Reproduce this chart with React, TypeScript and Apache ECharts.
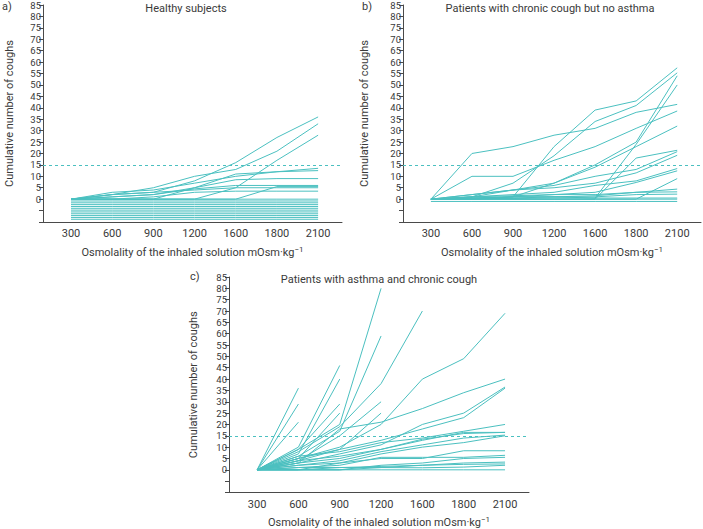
import React, { useEffect, useRef } from "react";
import * as echarts from "echarts";

// Osmolality steps (mOsm·kg⁻¹), evenly spaced categories
const categories = ["300", "600", "900", "1200", "1600", "1800", "2100"];
const thresholdCoughs = 15;

// a) Healthy subjects – cumulative coughs per subject
const healthySubjects: number[][] = [
  [0, 2, 5, 10, 13, 21, 33],
  [0, 2, 3, 8, 16, 27, 36],
  [0, 0, 0, 0, 5, 17, 28],
  [0, 1, 2, 5, 11, 12, 13.5],
  [0, 3, 4, 7, 10, 12, 12.5],
  [0, 0, 0, 5, 8.5, 9, 9],
  [0, 1, 2, 4.5, 6, 6, 6],
  [0, 0, 0, 0, 0, 5.5, 5.5],
  [0, 2, 3, 4, 5, 5, 5],
  [0, 0, 1, 3, 3.5, 3.5, 3.5],
  // subjects without coughs (drawn stacked below zero)
  [0, 0, 0, 0, 0, 0, 0],
  [-0.8, -0.8, -0.8, -0.8, -0.8, -0.8, -0.8],
  [-1.6, -1.6, -1.6, -1.6, -1.6, -1.6, -1.6],
  [-2.4, -2.4, -2.4, -2.4, -2.4, -2.4, -2.4],
  [-3.2, -3.2, -3.2, -3.2, -3.2, -3.2, -3.2],
  [-4, -4, -4, -4, -4, -4, -4],
  [-4.8, -4.8, -4.8, -4.8, -4.8, -4.8, -4.8],
  [-5.6, -5.6, -5.6, -5.6, -5.6, -5.6, -5.6],
  [-6.4, -6.4, -6.4, -6.4, -6.4, -6.4, -6.4],
  [-7.2, -7.2, -7.2, -7.2, -7.2, -7.2, -7.2],
  [-8, -8, -8, -8, -8, -8, -8],
  [-8.8, -8.8, -8.8, -8.8, -8.8, -8.8, -8.8],
];

// b) Patients with chronic cough but no asthma
const coughNoAsthma: number[][] = [
  [0, 20, 23, 28, 31, 38, 41.5],
  [0, 10, 10, 17, 23, 31, 38.6],
  [0, 0.5, 1, 23, 39, 43, 57.5],
  [0, 1, 7, 19, 34, 41, 55.3],
  [0, 0.5, 1, 7, 15, 25, 54],
  [0, 0, 1, 1, 0.5, 24, 50],
  [0, 2, 4, 7, 14, 23, 32],
  [0, 0, 0, 0, 0, 18, 21.4],
  [0, 1, 4, 6, 10, 13, 20.8],
  [0, 2, 4, 5, 7, 11.5, 19.2],
  [0, 1, 2, 3, 6, 8, 13.4],
  [0, 0, 1, 2, 3, 7.3, 12.4],
  [0, 0, 0, 0, 0, 0, 9],
  [0, 1, 1.5, 2, 2, 3, 4.4],
  [0, 0.5, 1, 1, 1.5, 3, 3.2],
  [0, 0, 0.5, 1, 1, 2, 2.2],
  [0, 0.3, 0.3, 0.5, 0.5, 0.5, 0.5],
  [0, 0, 0, 0, 0, 0, 0],
  [-1, -1, -1, -1, -1, -1, -1],
];

// c) Patients with asthma and chronic cough (lines end when the test stopped)
const asthmaCough: number[][] = [
  [0, 9, 20, 80],
  [0, 8, 19, 38, 70],
  [0, 6, 17, 59],
  [0, 10, 46],
  [0, 7, 40],
  [0, 9, 29],
  [0, 5, 25],
  [0, 36],
  [0, 29],
  [0, 21],
  [0, 4, 15, 30],
  [0, 5, 9, 25],
  [0, 5, 10, 20, 40, 49, 69],
  [0, 3, 18, 21, 27, 34, 40],
  [0, 4, 9, 13, 18, 23, 36],
  [0, 3, 7, 11, 20, 25, 36.5],
  [0, 6, 8, 12, 14, 17, 20],
  [0, 4, 6, 9, 13, 16.5, 16.5],
  [0, 2, 4, 8, 11, 14, 15.3],
  [0, 0, 3, 7, 10, 12, 15],
  [0, 3, 5, 9, 13.5, 16, 16.5],
  [0, 2, 3, 5, 5, 8.4, 8.4],
  [0, 1, 2, 5.5, 5.5, 5.5, 6.4],
  [0, 0, 0, 2, 3, 5, 5.5],
  [0, 1, 1, 1, 2, 3, 3.4],
  [0, 0, 1, 1.5, 2, 2.4, 2.6],
  [0, 0, 0, 1, 0.9, 1.2, 2],
  [0, 0, 0, 0, 0, 0, 0],
];

const TEAL = "#4bc0c0";
const AXIS = "#4a4a4a";
const TEXT = "#3a3a3a";
const FONT = "Roboto, 'DejaVu Sans', sans-serif";
const FS = 11;
const FS_Y = 9.5;

const panels = [
  {
    letter: "a)",
    title: "Healthy subjects",
    data: healthySubjects,
    grid: { left: 43, top: 5, width: 299, height: 217 },
    titleAt: [186, 3],
    letterAt: [2, 1],
    yGap: 28,
  },
  {
    letter: "b)",
    title: "Patients with chronic cough but no asthma",
    data: coughNoAsthma,
    grid: { left: 403, top: 5, width: 298, height: 217 },
    titleAt: [550, 3],
    letterAt: [362, 1],
    yGap: 33,
  },
  {
    letter: "c)",
    title: "Patients with asthma and chronic cough",
    data: asthmaCough,
    grid: { left: 229, top: 277, width: 300, height: 217 },
    titleAt: [379, 274],
    letterAt: [190, 271],
    yGap: 30,
  },
];

export default function App() {
  const ref = useRef<HTMLDivElement>(null);

  useEffect(() => {
    if (!ref.current) return;
    const chart = echarts.init(ref.current, undefined, { renderer: "svg" });

    const grids: any[] = [];
    const xAxes: any[] = [];
    const yAxes: any[] = [];
    const titles: any[] = [];
    const series: any[] = [];

    panels.forEach((p, gi) => {
      grids.push({ ...p.grid, containLabel: false });
      xAxes.push({
        type: "value",
        gridIndex: gi,
        min: -0.68,
        max: 6.58,
        axisLine: { show: true, onZero: false, lineStyle: { color: AXIS, width: 1 } },
        axisTick: { show: false },
        splitLine: { show: false },
        axisLabel: {
          customValues: [0, 1, 2, 3, 4, 5, 6],
          formatter: (v: number) => categories[Math.round(v)] ?? "",
          color: TEXT,
          fontSize: FS,
          fontFamily: FONT,
          margin: 6,
        },
        name: "Osmolality of the inhaled solution mOsm·kg{sup|−1}",
        nameLocation: "middle",
        nameGap: 23,
        nameTextStyle: {
          color: TEXT,
          fontSize: FS,
          fontFamily: FONT,
          rich: {
            sup: { fontSize: 8, fontFamily: FONT, color: TEXT, verticalAlign: "top", padding: [0, 0, 6, 0] },
          },
        },
      });
      yAxes.push({
        type: "value",
        gridIndex: gi,
        min: -10,
        max: 85,
        interval: 5,
        axisLine: { show: true, onZero: false, lineStyle: { color: AXIS, width: 1 } },
        axisTick: { show: true, length: 4, lineStyle: { color: AXIS, width: 1 } },
        splitLine: { show: false },
        axisLabel: {
          formatter: (v: number) => (v < 0 ? "" : String(v)),
          color: TEXT,
          fontSize: FS_Y,
          fontFamily: FONT,
          margin: 2,
        },
        name: "Cumulative number of coughs",
        nameLocation: "middle",
        nameGap: p.yGap,
        nameTextStyle: { color: TEXT, fontSize: FS, fontFamily: FONT },
      });
      titles.push({
        text: p.title,
        left: p.titleAt[0],
        top: p.titleAt[1],
        textAlign: "center",
        padding: 0,
        textStyle: { color: TEXT, fontSize: FS, fontWeight: "normal", fontFamily: FONT },
      });
      titles.push({
        text: p.letter,
        left: p.letterAt[0],
        top: p.letterAt[1],
        padding: 0,
        textStyle: { color: TEXT, fontSize: FS, fontWeight: "normal", fontFamily: FONT },
      });
      p.data.forEach((vals, si) => {
        series.push({
          type: "line",
          xAxisIndex: gi,
          yAxisIndex: gi,
          data: vals.map((v, i) => [i, v]),
          symbol: "none",
          silent: true,
          lineStyle: { color: TEAL, width: 1 },
          markLine:
            si === 0
              ? {
                  silent: true,
                  symbol: "none",
                  label: { show: false },
                  lineStyle: { color: TEAL, width: 1, type: [3, 3], opacity: 1 },
                  emphasis: { disabled: true },
                  data: [{ yAxis: thresholdCoughs }],
                }
              : undefined,
        });
      });
    });

    chart.setOption({
      animation: false,
      backgroundColor: "#ffffff",
      title: titles,
      grid: grids,
      xAxis: xAxes,
      yAxis: yAxes,
      series,
    });

    return () => chart.dispose();
  }, []);

  return (
    <div
      ref={ref}
      style={{ position: "absolute", left: 0, top: 0, width: 703, height: 529, background: "#fff" }}
    />
  );
}
